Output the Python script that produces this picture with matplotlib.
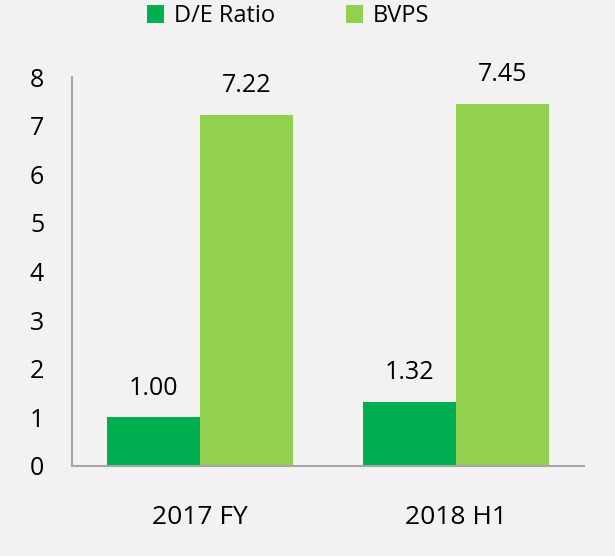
import matplotlib.pyplot as plt
import numpy as np

plt.rcParams['font.family'] = ['Open Sans', 'DejaVu Sans']

categories = ["2017 FY", "2018 H1"]
de_ratio = [1.00, 1.32]
bvps = [7.22, 7.45]
series_names = ["D/E Ratio", "BVPS"]

fig = plt.figure(figsize=(6.15, 5.56), dpi=100, facecolor="#f2f2f2")
ax = fig.add_axes([0.117, 0.162, 0.833, 0.6995])
ax.set_facecolor("#f2f2f2")

x = np.arange(len(categories))
w = 0.364
b1 = ax.bar(x - w / 2, de_ratio, w, color="#00b050", label=series_names[0])
b2 = ax.bar(x + w / 2, bvps, w, color="#92d050", label=series_names[1])

for bars, vals in ((b1, de_ratio), (b2, bvps)):
    for r, v in zip(bars, vals):
        ax.annotate("{:.2f}".format(v), (r.get_x() + r.get_width() / 2, v),
                    xytext=(0, 12), textcoords="offset points",
                    ha="center", va="bottom", fontsize=18)

ax.set_xlim(-0.5, 1.5)
ax.set_ylim(0, 8)
ax.set_yticks(range(0, 9))
ax.set_xticks(x)
ax.set_xticklabels(categories)
ax.tick_params(axis="both", length=0, labelsize=18)
ax.tick_params(axis="x", labelsize=19, pad=28)
ax.tick_params(axis="y", pad=20)

for s in ["top", "right"]:
    ax.spines[s].set_visible(False)
for s in ["left", "bottom"]:
    ax.spines[s].set_color("#a6a6a6")
    ax.spines[s].set_linewidth(1.5)

fig.legend(loc="center", bbox_to_anchor=(0.468, 0.971), ncol=2, frameon=False,
           fontsize=17, handlelength=0.75, handleheight=0.75, handletextpad=0.4,
           columnspacing=3.0)

fig.savefig("out.png", dpi=100, facecolor=fig.get_facecolor())
